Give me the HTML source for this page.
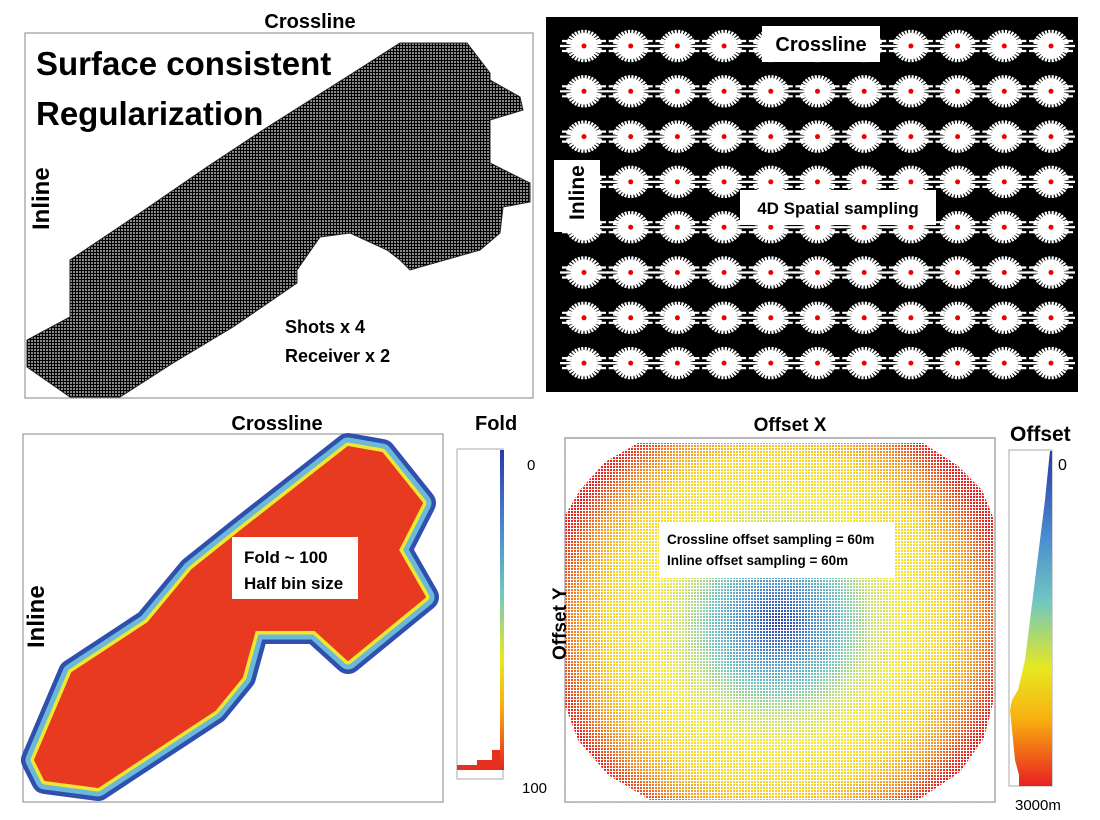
<!DOCTYPE html>
<html><head><meta charset="utf-8"><style>
html,body{margin:0;padding:0;background:#fff;width:1100px;height:820px;overflow:hidden}
svg{display:block}
text{font-family:"Liberation Sans",sans-serif;font-weight:bold}
</style></head><body>
<svg id="s" width="1100" height="820" viewBox="0 0 1100 820" xmlns="http://www.w3.org/2000/svg">
<defs>
<pattern id="mesh" width="3" height="3" patternUnits="userSpaceOnUse">
<rect width="3" height="3" fill="#888"/><rect width="3" height="1" fill="#000"/><rect width="1" height="3" fill="#000"/>
</pattern>
<pattern id="dotgrid" width="3" height="3" patternUnits="userSpaceOnUse">
<rect width="3" height="1" fill="#fff"/><rect width="1" height="3" fill="#fff"/>
</pattern>
<radialGradient id="og" cx="778" cy="622" r="250" gradientUnits="userSpaceOnUse">
<stop offset="0" stop-color="#2a3aa8"/>
<stop offset="0.14" stop-color="#4f8ccc"/>
<stop offset="0.26" stop-color="#6cc4c0"/>
<stop offset="0.38" stop-color="#c8e070"/>
<stop offset="0.5" stop-color="#f4e830"/>
<stop offset="0.68" stop-color="#f8d020"/>
<stop offset="0.8" stop-color="#f49020"/>
<stop offset="0.92" stop-color="#e82020"/>
</radialGradient>
<linearGradient id="vg" x1="0" y1="0" x2="0" y2="1">
<stop offset="0" stop-color="#2a3aa8"/>
<stop offset="0.25" stop-color="#4a8ad0"/>
<stop offset="0.45" stop-color="#70c8c0"/>
<stop offset="0.65" stop-color="#e8e820"/>
<stop offset="0.8" stop-color="#f8b010"/>
<stop offset="1" stop-color="#e82020"/>
</linearGradient>
<polygon id="fp" points="35,760 72,673 148,623 192,570 242,530 348,447 382,453 422,503 398,550 425,597 348,660 315,630 255,630 242,677 215,710 98,787 45,780"/>
</defs>

<!-- Top-left -->
<rect x="25" y="33" width="508" height="365" fill="#fff" stroke="#999" stroke-width="1.2"/>
<polygon fill="url(#mesh)" stroke="#222" stroke-width="1" points="400,43 467,43 490,73 490,80 520,97 523,110 490,120 490,163 530,183 530,202 503,207 500,233 480,250 410,270 400,260 387,250 350,233 320,237 297,270 297,283 233,327 173,363 120,397 70,397 27,367 27,340 70,317 70,260 140,213 207,167 263,130 353,73"/>
<text x="310" y="28" font-size="20" text-anchor="middle">Crossline</text>
<text x="36" y="75" font-size="33">Surface consistent</text>
<text x="36" y="125" font-size="33">Regularization</text>
<text transform="translate(49,230) rotate(-90)" font-size="24">Inline</text>
<text x="285" y="333" font-size="18">Shots  x 4</text>
<text x="285" y="362" font-size="18">Receiver x 2</text>

<!-- Top-right -->
<rect x="546" y="17" width="532" height="375" fill="#000"/>
<g id="stars"></g>
<rect x="762" y="26" width="118" height="36" fill="#fff"/>
<text x="821" y="51" font-size="20" text-anchor="middle">Crossline</text>
<rect x="554" y="160" width="46" height="72" fill="#fff"/>
<text transform="translate(584,220) rotate(-90)" font-size="21">Inline</text>
<rect x="740" y="190" width="196" height="35" fill="#fff"/>
<text x="838" y="214" font-size="17" text-anchor="middle">4D Spatial sampling</text>

<!-- Bottom-left fold -->
<rect x="23" y="434" width="420" height="368" fill="#fff" stroke="#999" stroke-width="1.2"/>
<g stroke-linejoin="round">
<use href="#fp" fill="#3050b0" stroke="#3050b0" stroke-width="28"/>
<use href="#fp" fill="#6cb8d8" stroke="#6cb8d8" stroke-width="19"/>
<use href="#fp" fill="#f0e830" stroke="#f0e830" stroke-width="9"/>
<use href="#fp" fill="#e83a20" stroke="#e83a20" stroke-width="2"/>
</g>
<text x="277" y="430" font-size="20" text-anchor="middle">Crossline</text>
<text transform="translate(44,648) rotate(-90)" font-size="24">Inline</text>
<rect x="232" y="537" width="126" height="62" fill="#fff"/>
<text x="244" y="563" font-size="17">Fold ~ 100</text>
<text x="244" y="589" font-size="17">Half bin size</text>
<rect x="457" y="449" width="46" height="330" fill="#fff" stroke="#aaa"/>
<rect x="500" y="450" width="4" height="320" fill="url(#vg)"/>
<polygon points="457,765 477,765 477,760 492,760 492,750 500,750 500,770 457,770" fill="#e83020"/>
<text x="475" y="430" font-size="20">Fold</text>
<text x="527" y="470" font-size="15" style="font-weight:normal">0</text>
<text x="522" y="793" font-size="15" style="font-weight:normal">100</text>

<!-- Bottom-right offset -->
<rect x="565" y="438" width="430" height="364" fill="#fff" stroke="#999" stroke-width="1.2"/>
<polygon fill="url(#og)" points="638,443 605,462 580,490 564,517 564,703 578,740 608,775 650,800 918,800 960,772 984,738 993,703 993,517 982,490 957,465 923,443"/>
<rect x="560" y="440" width="440" height="365" fill="url(#dotgrid)"/>
<rect x="565" y="438" width="430" height="364" fill="none" stroke="#999" stroke-width="1.2"/>
<text x="790" y="431" font-size="19" text-anchor="middle">Offset X</text>
<text transform="translate(566,660) rotate(-90)" font-size="19">Offset Y</text>
<rect x="659" y="522" width="236" height="56" fill="#fff"/>
<text x="667" y="544" font-size="13.5">Crossline offset sampling = 60m</text>
<text x="667" y="565" font-size="13.5">Inline offset sampling = 60m</text>
<rect x="1009" y="450" width="43" height="336" fill="#fff" stroke="#aaa"/>
<polygon points="1050,451 1052,451 1052,786 1019,786 1019,775 1015,760 1013,740 1010,710 1012,700 1018,690 1025,660 1030,620 1035,580 1040,540 1045,500 1048,470" fill="url(#vg)"/>
<text x="1010" y="441" font-size="21">Offset</text>
<text x="1058" y="470" font-size="16" style="font-weight:normal">0</text>
<text x="1015" y="810" font-size="15" style="font-weight:normal">3000m</text>
</svg>
<script>
var g=document.getElementById('stars'),h='';
var rays='';
for(var i=0;i<30;i++){var a=i*Math.PI*2/30,r=18+((i*7)%7);rays+='M0,0L'+(Math.cos(a)*r).toFixed(1)+','+(Math.sin(a)*r*0.9).toFixed(1);}
for(var r=0;r<8;r++)for(var c=0;c<11;c++){
var x=584+c*46.7,y=46+r*45.3;
h+='<g transform="translate('+x.toFixed(1)+','+y.toFixed(1)+')"><path d="'+rays+'M-24,0H24M-22,-5H22M-22,5H22" stroke="#fff" stroke-width="2.2"/><circle r="13" fill="#fff"/><circle r="2.5" fill="#e00"/></g>';}
g.innerHTML=h;
</script>
</body></html>
